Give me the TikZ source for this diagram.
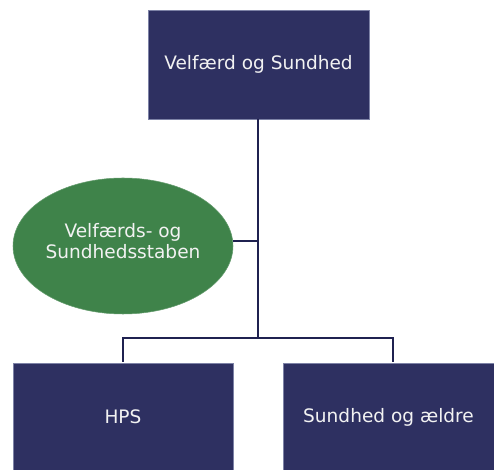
\documentclass[tikz,border=0pt]{standalone}
\usepackage{fontspec}
\setmainfont{DejaVu Sans}
\usetikzlibrary{shapes.geometric}
\definecolor{navy}{HTML}{2E3061}
\definecolor{navyline}{HTML}{1F2150}
\definecolor{boxedge}{HTML}{7D82A6}
\definecolor{staff}{HTML}{3F834A}
\definecolor{txt}{HTML}{F2F2F2}
\tikzset{
  orgbox/.style={rectangle, fill=navy, draw=boxedge, line width=0.4pt, text=txt, inner sep=0pt,
    font=\fontsize{13.9}{15.5}\selectfont, align=center},
  staffell/.style={ellipse, fill=staff, draw=staff!80!white, line width=0.4pt, inner sep=0pt,
    minimum width=165pt, minimum height=102pt},
  stafftext/.style={text=txt, inner sep=0pt, font=\fontsize{13.9}{15.5}\selectfont, align=center},
  conn/.style={draw=navyline, line width=2.1pt}
}
\begin{document}
\begin{tikzpicture}[x=0.75pt,y=-0.75pt]
\useasboundingbox (0,0) rectangle (494,470);
\node[orgbox, minimum width=165.75pt, minimum height=81.75pt] (top) at (258.5,64.5) {Velfærd og Sundhed};
\node[staffell] (ell) at (123,246) {};
\node[stafftext] (ellt) at (123,241) {Velfærds- og\\Sundhedsstaben};
\node[orgbox, minimum width=165pt, minimum height=80.25pt] (hps) at (123,417) {HPS};
\node[orgbox, minimum width=158.25pt, minimum height=80.25pt] (sae) at (388.5,417) {Sundhed og ældre};
\coordinate (j) at (258,338);
\coordinate (ej) at (258,241);
\coordinate (rd) at (393,362);
\coordinate (ld) at (123,362);
\draw[conn] (top.south -| j) -- (j);
\draw[conn] (ej) -- (ej -| ell.east);
\draw[conn] (ld) |- (j) -| (rd);
\end{tikzpicture}
\end{document}
